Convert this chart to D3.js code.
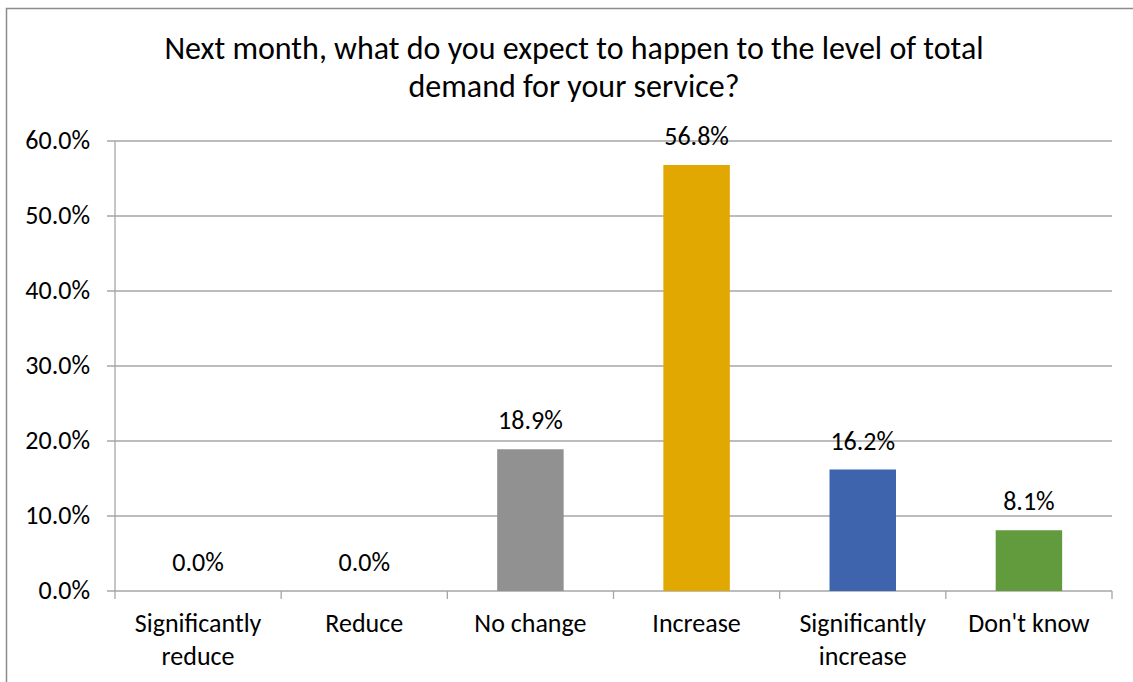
<!DOCTYPE html>
<html><head><meta charset="utf-8">
<script src="https://cdn.jsdelivr.net/npm/d3@7"></script>
<style>
body{margin:0;background:#fff;}
text{font-family:Carlito,Calibri,Lato,"Open Sans",sans-serif;fill:#000;}
</style></head><body>
<svg id="c" width="1133" height="682"></svg>
<script>
const categories = ["Significantly reduce","Reduce","No change","Increase","Significantly increase","Don't know"];
const categoryLines = [["Significantly","reduce"],["Reduce"],["No change"],["Increase"],["Significantly","increase"],["Don't know"]];
const values = [0.0, 0.0, 18.9, 56.8, 16.2, 8.1];
const barColors = ["#919191","#919191","#919191","#E0A800","#3D64AC","#619B3D"];
const yTicks = [0,10,20,30,40,50,60];
const titleLines = ["Next month, what do you expect to happen to the level of total","demand for your service?"];

const svg = d3.select("#c");
const m={left:115,right:1112,top:141,bottom:591};
const fs = 26;

svg.append("rect").attr("x",6.5).attr("y",8.5).attr("width",1140).attr("height",700)
  .attr("fill","none").attr("stroke","#8c8c8c").attr("stroke-width",1.5);

const x = d3.scaleBand().domain(categories).range([m.left,m.right]).padding(0);
const y = d3.scaleLinear().domain([0,60]).range([m.bottom,m.top]);

svg.append("g").selectAll("line").data(yTicks).join("line")
  .attr("x1",m.left-8).attr("x2",m.right)
  .attr("y1",d=>y(d)).attr("y2",d=>y(d))
  .attr("stroke","#a6a6a6").attr("stroke-width",1.3);
svg.append("line").attr("x1",m.left).attr("x2",m.left).attr("y1",m.top).attr("y2",m.bottom)
  .attr("stroke","#a6a6a6").attr("stroke-width",1.3);
svg.append("g").selectAll("text").data(yTicks).join("text")
  .attr("x",90).attr("y",d=>y(d)+8).attr("text-anchor","end")
  .style("font-size",fs+"px").text(d=>d.toFixed(1)+"%");

const bounds = categories.map(c=>x(c)).concat([m.right]);
svg.append("g").selectAll("line").data(bounds).join("line")
  .attr("x1",d=>d).attr("x2",d=>d).attr("y1",m.bottom).attr("y2",m.bottom+8)
  .attr("stroke","#a6a6a6").attr("stroke-width",1.3);

const bw = x.bandwidth()/2.5;
svg.append("g").selectAll("rect").data(values).join("rect")
  .attr("x",(d,i)=>x(categories[i])+x.bandwidth()/2-bw/2)
  .attr("width",bw)
  .attr("y",d=>y(d)).attr("height",d=>y(0)-y(d))
  .attr("fill",(d,i)=>barColors[i]);

svg.append("g").selectAll("text").data(values).join("text")
  .attr("x",(d,i)=>x(categories[i])+x.bandwidth()/2)
  .attr("y",d=>y(d)-20)
  .attr("text-anchor","middle").style("font-size",fs+"px")
  .text(d=>d.toFixed(1)+"%");

categoryLines.forEach((lines,i)=>{
  const t = svg.append("text").attr("text-anchor","middle").style("font-size",fs+"px");
  lines.forEach((l,j)=>{
    t.append("tspan").attr("x",x(categories[i])+x.bandwidth()/2).attr("y",632+j*33).text(l);
  });
});

svg.append("g").selectAll("text").data(titleLines).join("text")
  .attr("x",574).attr("y",(d,i)=>59+i*38).attr("text-anchor","middle")
  .style("font-size","32px").text(d=>d);
</script></body></html>
